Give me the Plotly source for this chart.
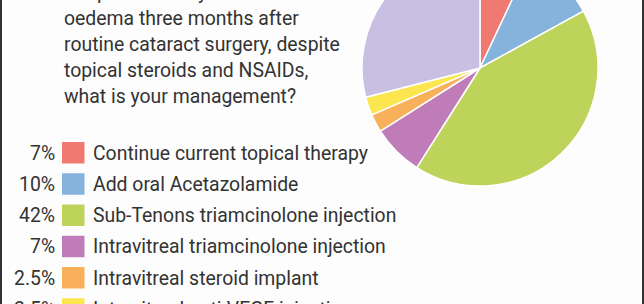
import plotly.graph_objects as go

# ---- data ----
question_lines = [
    "For persistent cystoid macular",
    "oedema three months after",
    "routine cataract surgery, despite",
    "topical steroids and NSAIDs,",
    "what is your management?",
]
options = [
    "Continue current topical therapy",
    "Add oral Acetazolamide",
    "Sub-Tenons triamcinolone injection",
    "Intravitreal triamcinolone injection",
    "Intravitreal steroid implant",
    "Intravitreal anti-VEGF injection",
    "Combination / other",
]
percents = [7, 10, 42, 7, 2.5, 2.5, 29]
percent_labels = ["7%", "10%", "42%", "7%", "2.5%", "2.5%", "29%"]
colors = ["#f07a72", "#86b3dc", "#bed35a", "#c07cb9", "#f8b15a", "#fce650", "#c8bfe2"]

# ---- geometry (figure is taller than the viewport; top part is scrolled off) ----
W, H, OFF = 644, 354, 50


def px(x):
    return x / W


def py(y):  # y in viewport pixels (from top)
    return 1 - (y + OFF) / H


cx, cy, r = 480, 68, 118

fig = go.Figure()
fig.add_trace(go.Pie(
    values=percents,
    labels=options,
    sort=False,
    direction="clockwise",
    rotation=0,
    marker=dict(colors=colors, line=dict(color="white", width=1.5)),
    textinfo="none",
    hoverinfo="label+percent",
    showlegend=False,
    domain=dict(x=[px(cx - r), px(cx + r)], y=[py(cy + r), py(cy - r)]),
))

annotations = []
shapes = []
font = dict(family="Roboto", size=19.4, color="#333333")

# question text
line_y0, line_dy = -8, 26
for i, t in enumerate(question_lines):
    annotations.append(dict(
        x=px(62), y=py(line_y0 + i * line_dy), xref="paper", yref="paper",
        text=t, showarrow=False, xanchor="left", yanchor="middle", font=font,
    ))

# legend rows
row_y0, row_dy = 153, 31.25
for i, (lab, pl, col) in enumerate(zip(options, percent_labels, colors)):
    yc = row_y0 + i * row_dy
    annotations.append(dict(
        x=px(57), y=py(yc), xref="paper", yref="paper", text=pl,
        showarrow=False, xanchor="right", yanchor="middle", font=font,
    ))
    shapes.append(dict(
        type="rect", xref="paper", yref="paper",
        x0=px(62), x1=px(84.5), y0=py(yc - 11), y1=py(yc + 10.5),
        fillcolor=col, line=dict(width=0),
    ))
    annotations.append(dict(
        x=px(91), y=py(yc), xref="paper", yref="paper", text=lab,
        showarrow=False, xanchor="left", yanchor="middle", font=font,
    ))

# frame lines
for x in (1, 643):
    shapes.append(dict(
        type="line", xref="paper", yref="paper",
        x0=px(x), x1=px(x), y0=0, y1=1,
        line=dict(color="#333333", width=2),
    ))

fig.update_layout(
    width=W, height=H,
    margin=dict(l=0, r=0, t=0, b=0),
    paper_bgcolor="#fdfdfd",
    plot_bgcolor="#fdfdfd",
    annotations=annotations,
    shapes=shapes,
)

post = (
    "var gd=document.getElementById('{plot_id}');"
    "document.documentElement.style.overflow='hidden';"
    "document.body.style.overflow='hidden';"
    "document.body.style.margin='0';"
    "gd.style.marginTop='-%dpx';" % OFF
)
fig.write_html("out.html", post_script=post)
